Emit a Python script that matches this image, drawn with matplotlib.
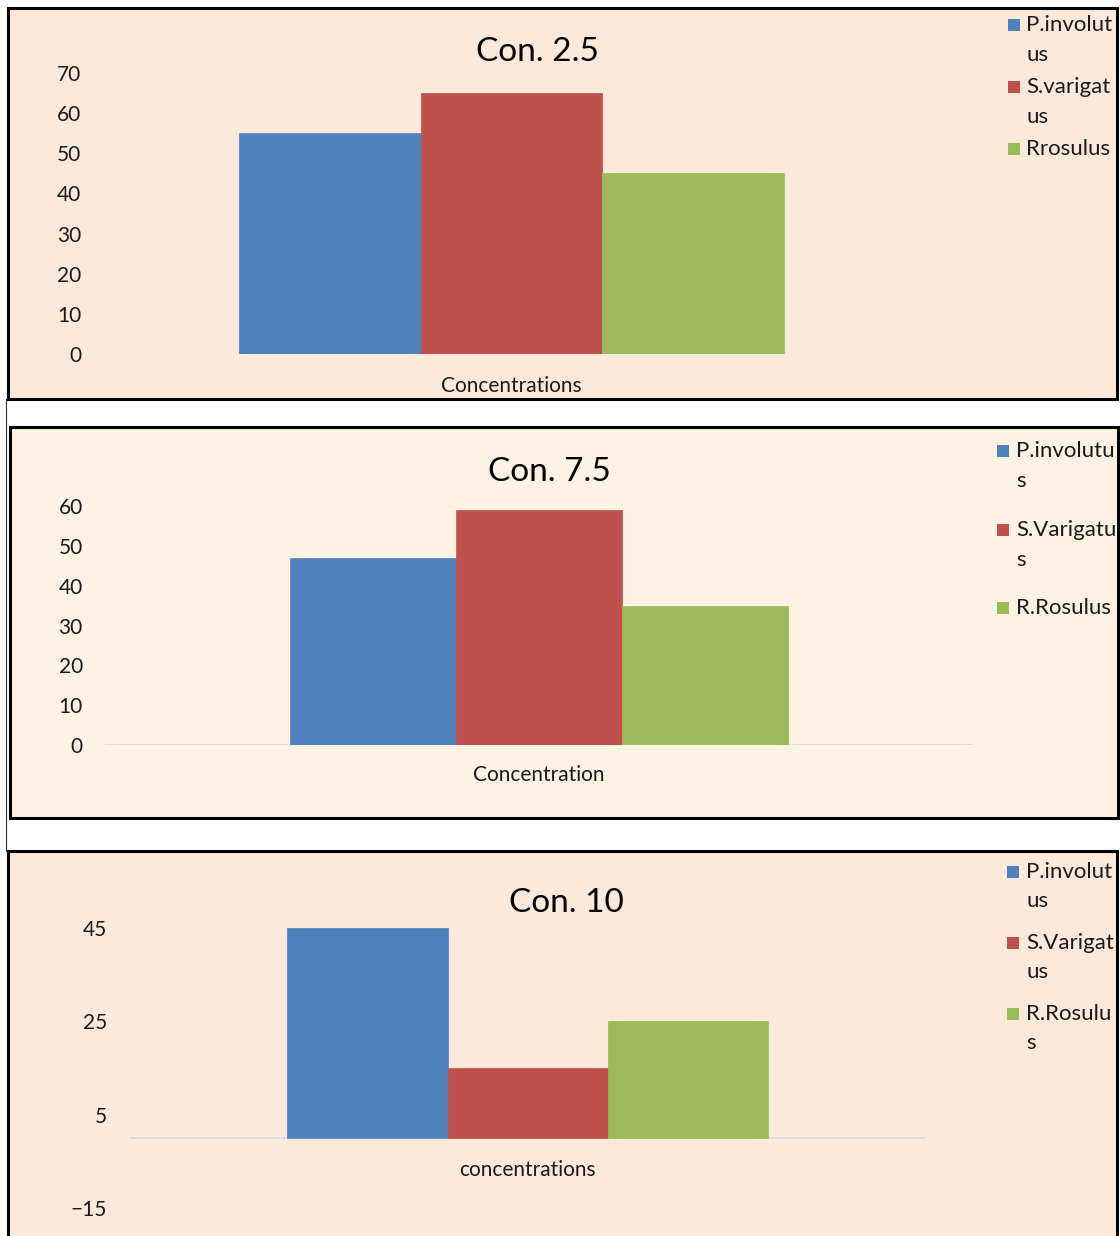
import matplotlib
matplotlib.use("Agg")
import matplotlib.pyplot as plt
from matplotlib.patches import Rectangle
from matplotlib.lines import Line2D

plt.rcParams['font.family'] = ['Lato', 'DejaVu Sans']

# ---- data -------------------------------------------------------------
titles = ["Con. 2.5", "Con. 7.5", "Con. 10"]
xlabels = ["Concentrations", "Concentration", "concentrations"]
legend_labels = [
    ["P.involut\nus", "S.varigat\nus", "Rrosulus"],
    ["P.involutu\ns", "S.Varigatu\ns", "R.Rosulus"],
    ["P.involut\nus", "S.Varigat\nus", "R.Rosulu\ns"],
]
values = [
    [55, 65, 45],
    [47, 59, 35],
    [45, 15, 25],
]
yticks = [
    [0, 10, 20, 30, 40, 50, 60, 70],
    [0, 10, 20, 30, 40, 50, 60],
    [-15, 5, 25, 45],
]
ylims = [(0, 70), (0, 60), (-15, 45)]

bar_colors = ["#4F81BD", "#C0504D", "#9BBB59"]
panel_bg = ["#FDE9D9", "#FEF2E2", "#FDE9D9"]

# ---- layout (pixels) ---------------------------------------------------
W, H = 1120, 1236
fig = plt.figure(figsize=(W / 100, H / 100), dpi=100)
fig.patch.set_facecolor("white")


def fx(x):
    return x / W


def fy(y):
    return 1 - y / H


# panel frame: left, top, right, bottom
frames = [(8, 8, 1117, 399), (10, 427, 1118, 818), (8, 851, 1117, 1250)]
# plot area: left, top, right, bottom
plot_areas = [(95, 73, 928, 354), (105, 506, 973, 745), (130, 928, 925, 1208)]
bar_px = [181.7, 165.7, 160.0]
tick_pad = [10, 16, 16.5]
title_pos = [(537, 52), (549, 472), (566, 903)]
xlabel_pos = [(511, 386), (539, 775), (527, 1170)]
show_base = [False, True, True]
# legend: square x, text x, first-line y of each entry, line step
legend_cfg = [
    (1008, 1026, [25, 87, 149], 30),
    (997, 1016, [451, 530, 608], 30),
    (1007, 1026, [872, 943, 1014], 29),
]

# thin connector on the left between frames
fig.add_artist(Line2D([fx(6), fx(6)], [fy(399), fy(851)], color="#333333",
                      lw=0.8, transform=fig.transFigure))

for i in range(3):
    l, t, r, b = frames[i]
    fig.add_artist(Rectangle((fx(l), fy(b)), (r - l) / W, (b - t) / H,
                             transform=fig.transFigure, facecolor=panel_bg[i],
                             edgecolor="black", lw=2.2, zorder=0))

    pl, pt, pr, pb = plot_areas[i]
    ax = fig.add_axes([fx(pl), fy(pb), (pr - pl) / W, (pb - pt) / H])
    ax.set_facecolor("none")
    w = bar_px[i] / (pr - pl)
    for k, (v, c) in enumerate(zip(values[i], bar_colors)):
        ax.bar((k - 1) * w, v, width=w, color=c, edgecolor=c, lw=0.5, zorder=2)
    ax.set_xlim(-0.5, 0.5)
    ax.set_ylim(*ylims[i])
    ax.set_yticks(yticks[i])
    ax.set_xticks([])
    ax.tick_params(axis="y", length=0, pad=tick_pad[i], labelsize=15,
                   labelcolor="#1a1a1a")
    for s in ax.spines.values():
        s.set_visible(False)
    if show_base[i]:
        ax.axhline(0, color="#D9D9D9", lw=1.2, zorder=1)

    fig.text(fx(title_pos[i][0]), fy(title_pos[i][1]), titles[i], fontsize=24,
             ha="center", va="center", color="black")
    fig.text(fx(xlabel_pos[i][0]), fy(xlabel_pos[i][1]), xlabels[i], fontsize=15,
             ha="center", va="center", color="#1a1a1a")

    sq_x, tx_x, ys, step = legend_cfg[i]
    for lab, y0, c in zip(legend_labels[i], ys, bar_colors):
        fig.add_artist(Rectangle((fx(sq_x), fy(y0 + 6)), 12 / W, 12 / H,
                                 transform=fig.transFigure, facecolor=c,
                                 edgecolor="none"))
        for j, line in enumerate(lab.split("\n")):
            fig.text(fx(tx_x), fy(y0 + j * step), line, fontsize=16,
                     ha="left", va="center", color="#1a1a1a")

fig.savefig("out.png", dpi=100)
